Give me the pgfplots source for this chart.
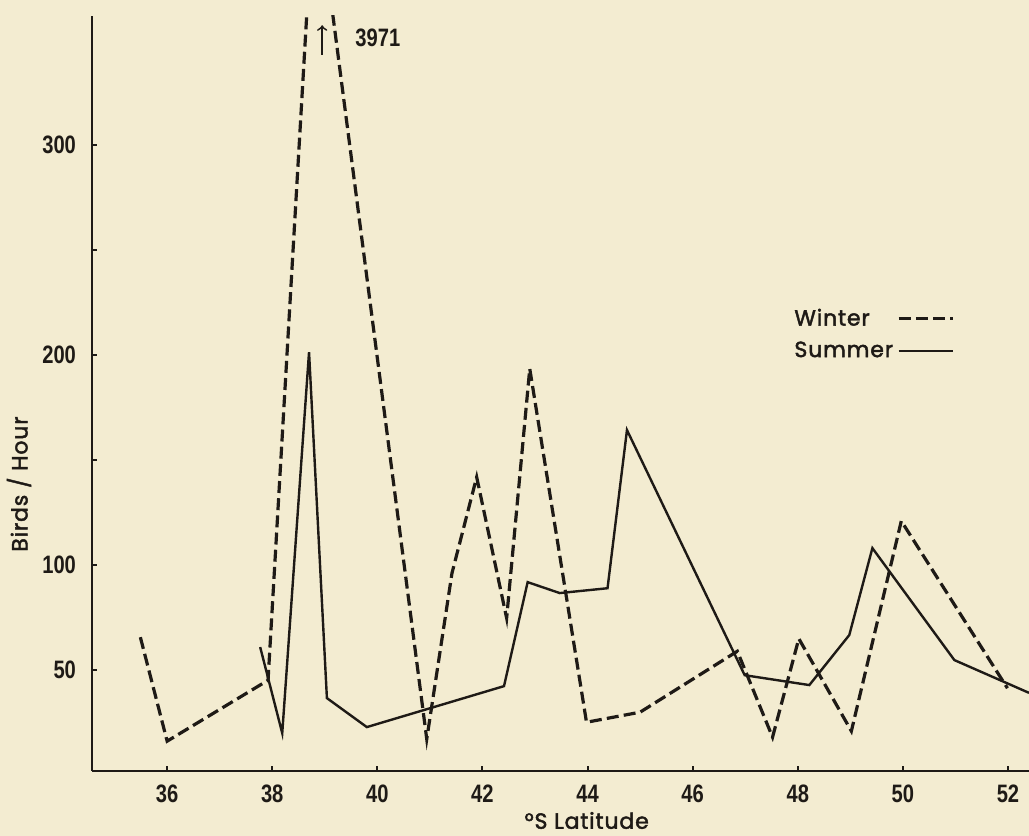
\documentclass[border=0pt]{standalone}
\usepackage{fontspec}
\usepackage{pgfplots}
\pgfplotsset{compat=1.18}
\newfontfamily\tickfont{Liberation Sans}[FakeStretch=0.8]
\newfontfamily\labfont{Poppins}[LetterSpace=4,FakeBold=2]
\definecolor{bg}{RGB}{243,236,209}
\definecolor{ink}{RGB}{30,26,22}
\begin{document}
\begin{tikzpicture}
\fill[bg] (0pt,0pt) rectangle (514.5pt,418pt);
\useasboundingbox (0pt,0pt) rectangle (514.5pt,418pt);
\begin{axis}[
  at={(46pt,32.5pt)}, anchor=south west,
  scale only axis, width=468.5pt, height=377.5pt,
  xmin=34.57, xmax=52.4, ymin=2, ymax=361.4,
  axis lines=left,
  axis line style={-, line width=1.4pt, draw=ink},
  xtick={36,38,...,52}, xticklabels={36,38,40,42,44,46,48,50,52},
  ytick={50,100,150,200,250,300}, yticklabels={50,100,,200,,300},
  /pgf/number format/assume math mode=true,
  tick align=inside, major tick length=2.5pt,
  tick style={line width=1pt, draw=ink},
  ticklabel style={font=\tickfont\bfseries\fontsize{12.6}{14}\selectfont, text=ink},
  xticklabel style={yshift=-3.5pt},
  yticklabel style={xshift=-4.5pt},
  xlabel={°S Latitude}, ylabel={Birds / Hour},
  label style={font=\labfont\fontsize{11}{13}\selectfont, text=ink},
  xlabel style={at={(axis description cs:0.528,-0.0765)}, anchor=base, inner sep=0pt},
  ylabel style={at={(axis description cs:-0.0779,0.38)}, anchor=center},
  legend plot pos=right,
  legend cell align=left,
  legend image code/.code={\draw[#1] (0pt,0pt) -- (27pt,0pt);},
  legend style={draw=none, fill=none, at={(axis description cs:0.745,0.618)}, anchor=north west,
    font=\labfont\fontsize{11}{13}\selectfont, text=ink, row sep=2.5pt, inner sep=0pt},
]
\addplot[ink, line width=1.6pt, dash pattern=on 6pt off 2.6pt, line join=miter] coordinates {
(35.49,65.7) (36.0,16.2) (37.92,45.2) (38.81,428) (40.94,17.2) (41.42,96.2)
(41.89,141.9) (42.46,74.8) (42.90,193.5) (43.98,25.2) (45.0,30) (46.85,59)
(47.52,18.1) (48.02,65) (49.02,21) (49.97,121) (51.99,41.4)
};
\addlegendentry{Winter}
\addplot[ink, line width=1.2pt, line join=miter] coordinates {
(37.77,61) (38.19,20) (38.70,201.4) (39.04,36.7) (39.80,22.9) (42.41,42.4)
(42.86,91.9) (43.47,86.7) (44.38,89) (44.75,164.3) (46.99,47.6) (48.22,42.9)
(48.98,66.7) (49.42,108.1) (50.98,54.8) (52.4,39.2)
};
\addlegendentry{Summer}
\node[font=\tickfont\bfseries\fontsize{12.6}{14}\selectfont, text=ink] at (axis cs:40.01,351) {3971};
\draw[->, ink, line width=0.9pt] (axis cs:38.95,343) -- (axis cs:38.95,357);
\end{axis}
\end{tikzpicture}
\end{document}
